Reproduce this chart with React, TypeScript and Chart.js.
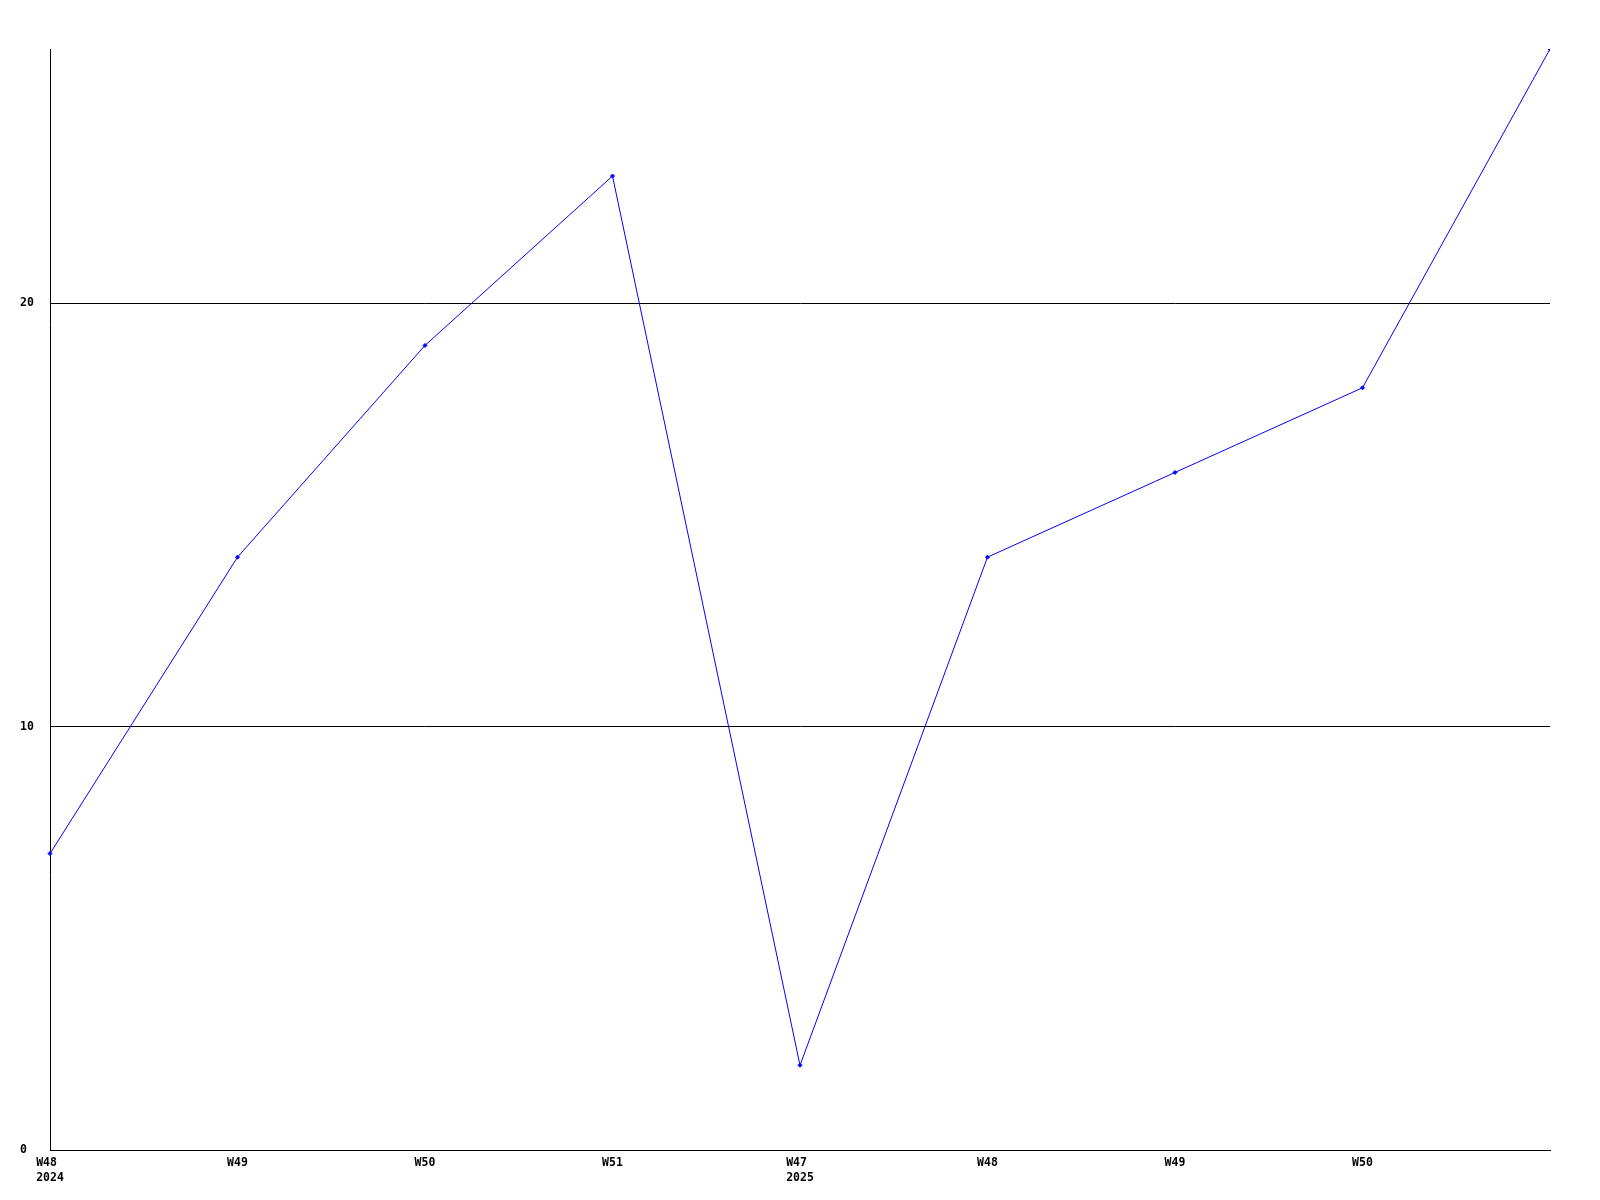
import React, { useEffect, useRef } from "react";
import { Chart, registerables } from "chart.js";

Chart.register(...registerables);

const weekLabels: string[][] = [
  ["W48 ", "2024"],
  ["W49"],
  ["W50"],
  ["W51"],
  ["W47 ", "2025"],
  ["W48"],
  ["W49"],
  ["W50"],
  [""],
];
const seriesValues: number[] = [7, 14, 19, 23, 2, 14, 16, 18, 26];
const yTickValues: number[] = [0, 10, 20];
const yMin = 0;
const yMax = 26;

export default function App() {
  const ref = useRef<HTMLCanvasElement | null>(null);
  useEffect(() => {
    if (!ref.current) return;
    const font = { family: "'DejaVu Sans Mono', monospace", size: 11.5, weight: "bold" as const, lineHeight: 1.3 };
    const chart = new Chart(ref.current, {
      type: "line",
      data: {
        labels: weekLabels,
        datasets: [
          {
            data: seriesValues,
            borderColor: "#0000ff",
            backgroundColor: "#0000ff",
            borderWidth: 1,
            pointStyle: "rectRot",
            pointRadius: 2,
            pointBorderWidth: 1,
            tension: 0,
            fill: false,
            clip: { left: false, top: 0, right: 0, bottom: false } as any,
          },
        ],
      },
      options: {
        animation: false,
        responsive: false,
        maintainAspectRatio: false,
        layout: { padding: { left: 20, top: 49, right: 50, bottom: 0 } },
        plugins: { legend: { display: false }, tooltip: { enabled: false } },
        scales: {
          x: {
            type: "category",
            offset: false,
            grid: { display: false, drawTicks: false },
            border: { display: true, color: "#000000", width: 1 },
            ticks: {
              color: "#000000",
              font,
              padding: 6,
              autoSkip: false,
              maxRotation: 0,
              minRotation: 0,
            },
            afterFit: (s: any) => {
              s.height = 50;
            },
          },
          y: {
            min: yMin,
            max: yMax,
            grid: { display: true, color: "#000000", lineWidth: 1, drawTicks: false },
            border: { display: true, color: "#000000", width: 1 },
            ticks: { color: "#000000", font, padding: 17, crossAlign: "far" },
            afterBuildTicks: (s: any) => {
              s.ticks = yTickValues.map((v) => ({ value: v }));
            },
            afterFit: (s: any) => {
              s.width = 30;
            },
          },
        },
      },
    });
    return () => chart.destroy();
  }, []);
  return (
    <div style={{ position: "absolute", left: 0, top: 0, width: 1600, height: 1200, background: "#ffffff" }}>
      <canvas ref={ref} width={1600} height={1200} style={{ width: 1600, height: 1200, display: "block" }} />
    </div>
  );
}
